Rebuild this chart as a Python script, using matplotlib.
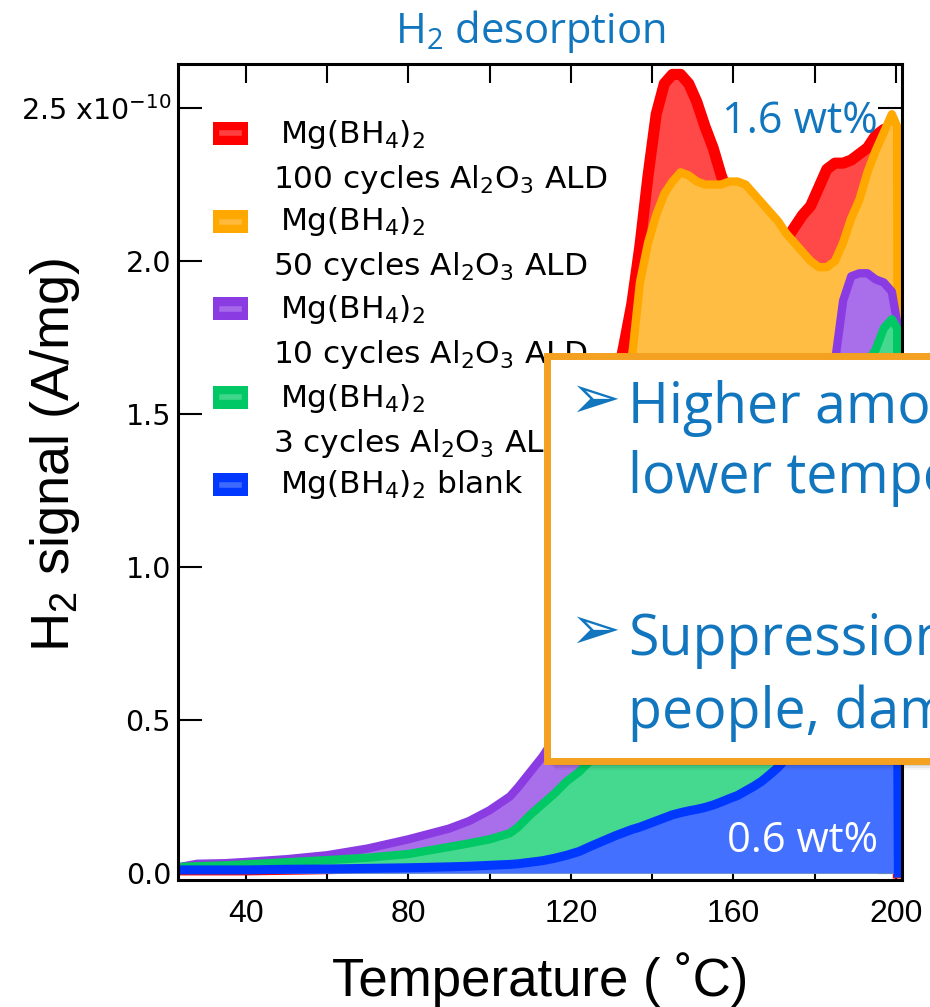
# %%

import matplotlib.pyplot as plt
from matplotlib.patches import Rectangle

# %%

# Temperature (C) and H2 signal (units of 1e-10 A/mg)
temperatura = [24, 28, 35, 40, 50, 60, 70, 80, 90, 95, 100, 105, 107, 110, 113, 116,
               119, 122, 125, 128, 131, 133, 135, 137, 139, 141, 143, 145, 147, 149,
               151, 153, 155, 157, 159, 161, 163, 165, 167, 169, 171, 173, 175, 177,
               179, 181, 183, 185, 187, 189, 191, 193, 195, 197, 199, 200.3, 200.6]

ald_100 = [0.01, 0.01, 0.01, 0.01, 0.012, 0.014, 0.017, 0.02, 0.03, 0.04, 0.05, 0.07, 0.08,
           0.11, 0.17, 0.29, 0.48, 0.74, 1.04, 1.34, 1.59, 1.72, 1.86, 2.05, 2.28, 2.48,
           2.58, 2.61, 2.61, 2.58, 2.52, 2.44, 2.37, 2.28, 2.21, 2.17, 2.15, 2.12, 2.1,
           2.08, 2.06, 2.07, 2.11, 2.15, 2.18, 2.24, 2.3, 2.32, 2.32, 2.33, 2.35, 2.37,
           2.41, 2.43, 2.42, 2.3, 0.0]

ald_50 = [0.01, 0.01, 0.01, 0.01, 0.012, 0.014, 0.017, 0.02, 0.03, 0.04, 0.05, 0.07, 0.08,
          0.1, 0.15, 0.26, 0.42, 0.62, 0.88, 1.18, 1.47, 1.6, 1.68, 1.93, 2.06, 2.15,
          2.22, 2.26, 2.29, 2.28, 2.26, 2.25, 2.25, 2.25, 2.26, 2.26, 2.25, 2.22, 2.19,
          2.16, 2.13, 2.09, 2.06, 2.03, 2.0, 1.98, 1.98, 2.0, 2.06, 2.14, 2.2, 2.29,
          2.36, 2.42, 2.48, 2.44, 0.0]

ald_10 = [0.02, 0.03, 0.032, 0.036, 0.045, 0.058, 0.08, 0.11, 0.145, 0.17, 0.205, 0.25,
          0.28, 0.33, 0.38, 0.44, 0.5, 0.56, 0.62, 0.68, 0.74, 0.77, 0.8, 0.84, 0.87,
          0.9, 0.93, 0.96, 0.99, 1.02, 1.05, 1.08, 1.11, 1.14, 1.17, 1.2, 1.23, 1.26,
          1.29, 1.32, 1.35, 1.38, 1.42, 1.46, 1.5, 1.55, 1.6, 1.67, 1.87, 1.95, 1.96,
          1.96, 1.94, 1.93, 1.9, 1.8, 0.0]

ald_3 = [0.02, 0.022, 0.025, 0.028, 0.035, 0.042, 0.05, 0.062, 0.085, 0.097, 0.11, 0.13,
         0.15, 0.19, 0.225, 0.26, 0.3, 0.33, 0.37, 0.42, 0.48, 0.52, 0.56, 0.6, 0.64,
         0.68, 0.72, 0.76, 0.8, 0.84, 0.88, 0.92, 0.96, 1.0, 1.04, 1.08, 1.12, 1.16,
         1.2, 1.24, 1.28, 1.32, 1.36, 1.4, 1.44, 1.48, 1.52, 1.55, 1.58, 1.61, 1.64,
         1.67, 1.71, 1.78, 1.81, 1.78, 0.0]

blank = [0.01, 0.01, 0.01, 0.01, 0.012, 0.013, 0.015, 0.017, 0.02, 0.022, 0.025, 0.028,
         0.03, 0.035, 0.04, 0.048, 0.058, 0.07, 0.088, 0.105, 0.122, 0.132, 0.142, 0.15,
         0.16, 0.17, 0.18, 0.19, 0.197, 0.203, 0.208, 0.214, 0.222, 0.232, 0.243, 0.253,
         0.268, 0.283, 0.3, 0.322, 0.345, 0.375, 0.41, 0.45, 0.49, 0.53, 0.57, 0.61,
         0.65, 0.69, 0.73, 0.77, 0.8, 0.83, 0.85, 0.8, 0.0]

legenda = ["Mg(BH$_4$)$_2$\n100 cycles Al$_2$O$_3$ ALD",
           "Mg(BH$_4$)$_2$\n50 cycles Al$_2$O$_3$ ALD",
           "Mg(BH$_4$)$_2$\n10 cycles Al$_2$O$_3$ ALD",
           "Mg(BH$_4$)$_2$\n3 cycles Al$_2$O$_3$ ALD",
           "Mg(BH$_4$)$_2$ blank"]

x_ticks = [40, 80, 120, 160, 200]
y_ticks = [0.0, 0.5, 1.0, 1.5, 2.0, 2.5]
y_tick_labels = ["0.0", "0.5", "1.0", "1.5", "2.0", "2.5 x10$^{\\mathregular{-10}}$"]

# text of the slide box, as far as it shows in the crop
caixa = [("Higher amo", 423), ("lower tempe", 493),
         ("Suppression", 655), ("people, dam", 728)]

# line colour / fill colour per series
cores = [("#ff0000", "#ff4848"),
         ("#ffa800", "#ffbd44"),
         ("#8a3be2", "#a96eea"),
         ("#00c864", "#45d98f"),
         ("#0038ff", "#4470ff")]
larguras = [8, 6, 6, 6, 6.5]

azul = "#1276bf"
laranja = "#f4a020"

# %%

W, H = 930, 1007
fig = plt.figure(figsize=(W / 100, H / 100), dpi=100)
ax = fig.add_axes([178 / W, 127 / H, 724 / W, 816 / H])

series = [ald_100, ald_50, ald_10, ald_3, blank]
for i, (vals, (c_linha, c_fill), lw) in enumerate(zip(series, cores, larguras)):
    ax.fill_between(temperatura, 0, vals, color=c_fill, lw=0, zorder=1 + 2 * i)
    ax.plot(temperatura, vals, color=c_linha, lw=lw, solid_joinstyle="round",
            zorder=2 + 2 * i)

ax.set_xlim(23.3, 201.5)
ax.set_ylim(-0.023, 2.644)
ax.set_axisbelow(True)

for s in ax.spines.values():
    s.set_linewidth(2.2)
    s.set_zorder(30)

ax.set_xticks(x_ticks)
ax.set_xticks([60, 100, 140, 180], minor=True)
ax.tick_params(axis="x", which="both", direction="in", top=True, length=14, width=1.5,
               pad=14, labelsize=23)
for lbl in ax.get_xticklabels():
    lbl.set_fontfamily("Liberation Sans")

ax.set_yticks(y_ticks)
ax.set_yticklabels(y_tick_labels)
ax.tick_params(axis="y", direction="in", right=True, length=17, width=1.5, pad=5,
               labelsize=20.5)

ax.set_xlabel("Temperature ( \u02daC)", fontsize=38, family="Liberation Sans")
ax.xaxis.set_label_coords(0.5, -0.088)
ax.set_ylabel("$\\mathregular{H_2}$ signal (A/mg)", fontsize=39, family="Liberation Sans")
ax.yaxis.set_label_coords(-0.133, 0.521)

# legend drawn by hand (Igor style swatches)
sw_y = [0.9154, 0.8064, 0.6998, 0.5919, 0.4841]
txt_y = [0.9032, 0.7966, 0.6887, 0.5797, 0.4743]
for lab, (c_linha, c_fill), yc, yt in zip(legenda, cores, sw_y, txt_y):
    ax.add_patch(Rectangle((0.0483, yc - 0.0141), 0.0483, 0.0282, transform=ax.transAxes,
                           facecolor=c_linha, edgecolor="none", zorder=20))
    ax.plot([0.061, 0.084], [yc, yc], transform=ax.transAxes, color=c_fill, lw=4,
            alpha=0.9, zorder=21)
    linhas = lab.split("\n")
    ax.text(0.1409, yt, linhas[0], transform=ax.transAxes, fontsize=22.5, va="baseline",
            ha="left", zorder=21)
    if len(linhas) > 1:
        ax.text(0.1312, yt - 0.0552, linhas[1], transform=ax.transAxes, fontsize=22.5,
                va="baseline", ha="left", zorder=21)

ax.text(157.2, 2.418, "1.6 wt%", fontsize=31, color=azul, family="Open Sans",
        ha="left", va="baseline", zorder=22)
ax.text(195.6, 0.069, "0.6 wt%", fontsize=30, color="white", family="Open Sans",
        ha="right", va="baseline", zorder=22)

# title
fig.text(530 / W, 1 - 43 / H, "$\\mathregular{H_2}$ desorption", fontsize=30, color=azul,
         family="Open Sans", ha="center", va="baseline")

# text box with shadow
for k, a in enumerate([0.10, 0.08, 0.06, 0.04]):
    d = 3 + 2 * k
    fig.add_artist(Rectangle(((546 + d) / W, 1 - (761 + d) / H), 1.0, 405 / H,
                             transform=fig.transFigure, facecolor="black", alpha=a,
                             edgecolor="none", zorder=1))
fig.add_artist(Rectangle((546.5 / W, 1 - 760.5 / H), 1.0, 405 / H, transform=fig.transFigure,
                         facecolor="white", edgecolor=laranja, lw=5, zorder=2))

for txt, yb in caixa:
    fig.text(628 / W, 1 - yb / H, txt, fontsize=40, color=azul, family="Open Sans",
             ha="left", va="baseline", zorder=3)
for yc in [401, 632]:
    fig.text(569 / W, 1 - yc / H, "\u27a2", fontsize=44, color=azul, family=["DejaVu Sans"],
             ha="left", va="center", zorder=3)

fig.savefig("out.png", dpi=100)
